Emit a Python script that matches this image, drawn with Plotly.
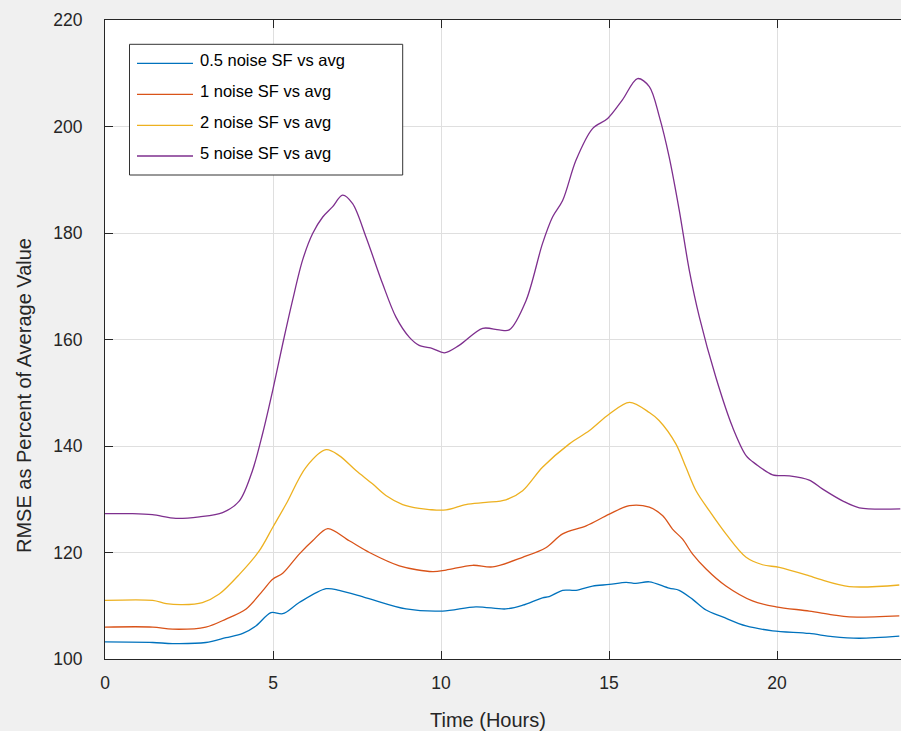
import plotly.graph_objects as go

# ---------------- data ----------------
series_names = ["0.5 noise SF vs avg", "1 noise SF vs avg", "2 noise SF vs avg", "5 noise SF vs avg"]
series_colors = ["#0072BD", "#D95319", "#EDB120", "#7E2F8E"]

x_05 = [0, 1.42, 2.01, 3.0, 3.6, 4.1, 4.49, 4.94, 5.29, 5.78, 6.58, 6.97, 7.77, 8.96, 10.05, 11.04,
        11.93, 12.43, 13.02, 13.22, 13.62, 14.02, 14.51, 15.01, 15.51, 15.8, 16.2, 16.79, 17.09,
        17.49, 17.89, 18.38, 19.08, 19.87, 20.96, 21.65, 22.45, 23.64]
y_05 = [103.2, 103.1, 102.9, 103.1, 104.0, 104.8, 106.2, 108.7, 108.5, 110.6, 113.2, 112.9, 111.5,
        109.4, 109.0, 109.8, 109.4, 110.1, 111.5, 111.7, 112.9, 112.9, 113.7, 114.0, 114.4, 114.2,
        114.5, 113.3, 112.9, 111.2, 109.2, 107.9, 106.2, 105.3, 104.8, 104.2, 103.9, 104.3]

x_1 = [0, 1.42, 2.01, 3.0, 3.6, 4.2, 4.69, 4.99, 5.29, 5.78, 6.18, 6.63, 7.27, 7.87, 8.76, 9.75,
       10.15, 10.94, 11.54, 12.43, 13.12, 13.62, 14.32, 15.01, 15.61, 16.2, 16.6, 16.89, 17.19,
       17.49, 17.89, 18.48, 19.27, 19.97, 20.96, 21.65, 22.15, 23.64]
y_1 = [106.0, 106.0, 105.6, 106.0, 107.5, 109.4, 112.8, 115.0, 116.1, 119.7, 122.2, 124.5, 122.2,
       120.0, 117.5, 116.4, 116.7, 117.6, 117.3, 119.1, 120.9, 123.5, 125.0, 127.2, 128.8, 128.5,
       126.9, 124.4, 122.5, 119.7, 116.9, 113.7, 110.9, 109.8, 109.0, 108.3, 107.9, 108.1]

x_2 = [0, 1.42, 1.82, 2.31, 2.9, 3.4, 4.0, 4.59, 4.99, 5.39, 5.98, 6.58, 6.97, 7.47, 7.96, 8.36,
       8.86, 9.35, 10.15, 10.74, 11.34, 11.93, 12.43, 13.02, 13.82, 14.42, 15.01, 15.61, 16.2,
       16.49, 16.99, 17.29, 17.59, 17.99, 18.48, 19.08, 19.57, 20.07, 20.96, 21.26, 22.15, 23.64]
y_2 = [111.0, 111.0, 110.4, 110.2, 110.6, 112.2, 115.9, 120.3, 124.7, 129.1, 136.0, 139.3, 138.2,
       135.4, 132.9, 130.7, 129.0, 128.3, 128.0, 129.0, 129.4, 129.9, 131.6, 136.0, 140.4, 142.9,
       146.0, 148.2, 146.3, 144.8, 140.4, 136.0, 131.6, 127.8, 123.5, 119.1, 117.7, 117.2, 115.6,
       115.0, 113.6, 113.9]

x_5 = [0, 0.82, 1.41, 2.11, 2.81, 3.5, 4.0, 4.39, 4.69, 4.99, 5.29, 5.58, 5.88, 6.18, 6.48, 6.77,
       7.07, 7.37, 7.77, 8.26, 8.66, 9.06, 9.35, 9.75, 10.1, 10.54, 11.24, 11.73, 12.03, 12.53,
       13.02, 13.32, 13.62, 14.02, 14.51, 14.96, 15.4, 15.85, 16.2, 16.5, 16.79, 17.09, 17.39,
       17.69, 18.18, 18.68, 19.08, 19.37, 19.87, 20.37, 20.96, 21.36, 21.95, 22.45, 23.67]
y_5 = [127.3, 127.3, 127.1, 126.4, 126.7, 127.5, 129.7, 135.4, 142.3, 150.4, 159.2, 167.3, 174.9,
       179.9, 183.0, 184.9, 187.1, 185.5, 179.2, 170.5, 164.2, 160.4, 158.9, 158.3, 157.5, 158.9,
       162.1, 161.8, 161.8, 167.3, 178.0, 183.0, 186.1, 193.7, 199.6, 201.5, 205.0, 209.0, 207.5,
       201.8, 194.3, 184.3, 173.0, 164.2, 152.9, 143.5, 138.2, 136.6, 134.6, 134.4, 133.6, 131.9,
       129.7, 128.4, 128.2]

x_ticks = [0, 5, 10, 15, 20]
y_ticks = [100, 120, 140, 160, 180, 200, 220]
x_title = "Time (Hours)"
y_title = "RMSE as Percent of Average Value"

xs = [x_05, x_1, x_2, x_5]
ys = [y_05, y_1, y_2, y_5]

# ---------------- layout geometry ----------------
W, H = 901, 731
ML, MR, MT, MB = 105, 0, 20, 72
PW, PH = W - ML - MR, H - MT - MB


def px(xp):
    return (xp - ML) / PW


def py(yp):
    return (H - MB - yp) / PH


FONT = "Liberation Sans, Arial, Helvetica, sans-serif"
AX = "#262626"
GRID = "#dfdfdf"

fig = go.Figure()
for name, col, xv, yv in zip(series_names, series_colors, xs, ys):
    fig.add_trace(go.Scatter(x=xv, y=yv, mode="lines", name=name,
                             line=dict(color=col, width=1.3, shape="spline", smoothing=0.9),
                             showlegend=False, hoverinfo="skip"))

shapes = []
annotations = []
# legend box
shapes.append(dict(type="rect", xref="paper", yref="paper",
                   x0=px(129.5), x1=px(402.7), y0=py(175), y1=py(44.3),
                   line=dict(color="#333333", width=1), fillcolor="white", layer="above"))
line_y = [63.3, 94.3, 125.3, 156.0]
text_y = [60.0, 90.7, 121.7, 152.7]
for name, col, ly, ty in zip(series_names, series_colors, line_y, text_y):
    shapes.append(dict(type="line", xref="paper", yref="paper",
                       x0=px(137), x1=px(193), y0=py(ly), y1=py(ly),
                       line=dict(color=col, width=1.3), layer="above"))
    annotations.append(dict(text=name, xref="paper", yref="paper", x=px(197.5), y=py(ty),
                            xanchor="left", yanchor="middle", showarrow=False,
                            font=dict(family=FONT, size=16.5, color="#000000")))

annotations.append(dict(text=x_title, xref="paper", yref="paper", x=px(488), y=py(720),
                        xanchor="center", yanchor="middle", showarrow=False,
                        font=dict(family=FONT, size=20, color=AX)))
annotations.append(dict(text=y_title, xref="paper", yref="paper", x=px(24), y=py(396),
                        xanchor="center", yanchor="middle", showarrow=False, textangle=-90,
                        font=dict(family=FONT, size=20, color=AX)))

fig.update_layout(
    width=W, height=H,
    margin=dict(l=ML, r=MR, t=MT, b=MB, pad=0),
    paper_bgcolor="#f0f0f0", plot_bgcolor="white",
    showlegend=False,
    shapes=shapes, annotations=annotations,
    font=dict(family=FONT, size=17.5, color=AX),
)
fig.update_xaxes(range=[0, PW / 33.6], tickvals=x_ticks, ticktext=[str(v) for v in x_ticks],
                 showgrid=True, gridcolor=GRID, gridwidth=1, zeroline=False,
                 showline=True, linecolor=AX, linewidth=1, mirror="ticks",
                 ticks="inside", ticklen=8, tickcolor=AX, tickwidth=1,
                 ticklabelstandoff=8,
                 tickfont=dict(family=FONT, size=17.5, color=AX))
fig.update_yaxes(range=[100, 220], tickvals=y_ticks, ticktext=[str(v) for v in y_ticks],
                 showgrid=True, gridcolor=GRID, gridwidth=1, zeroline=False,
                 showline=True, linecolor=AX, linewidth=1, mirror=False,
                 ticks="inside", ticklen=8, tickcolor=AX, tickwidth=1,
                 ticklabelstandoff=18,
                 tickfont=dict(family=FONT, size=17.5, color=AX))

fig.write_html("out.html", config={"displayModeBar": False},
               post_script="document.body.style.margin='0';document.body.style.padding='0';"
                           "document.body.style.background='#f0f0f0';")
